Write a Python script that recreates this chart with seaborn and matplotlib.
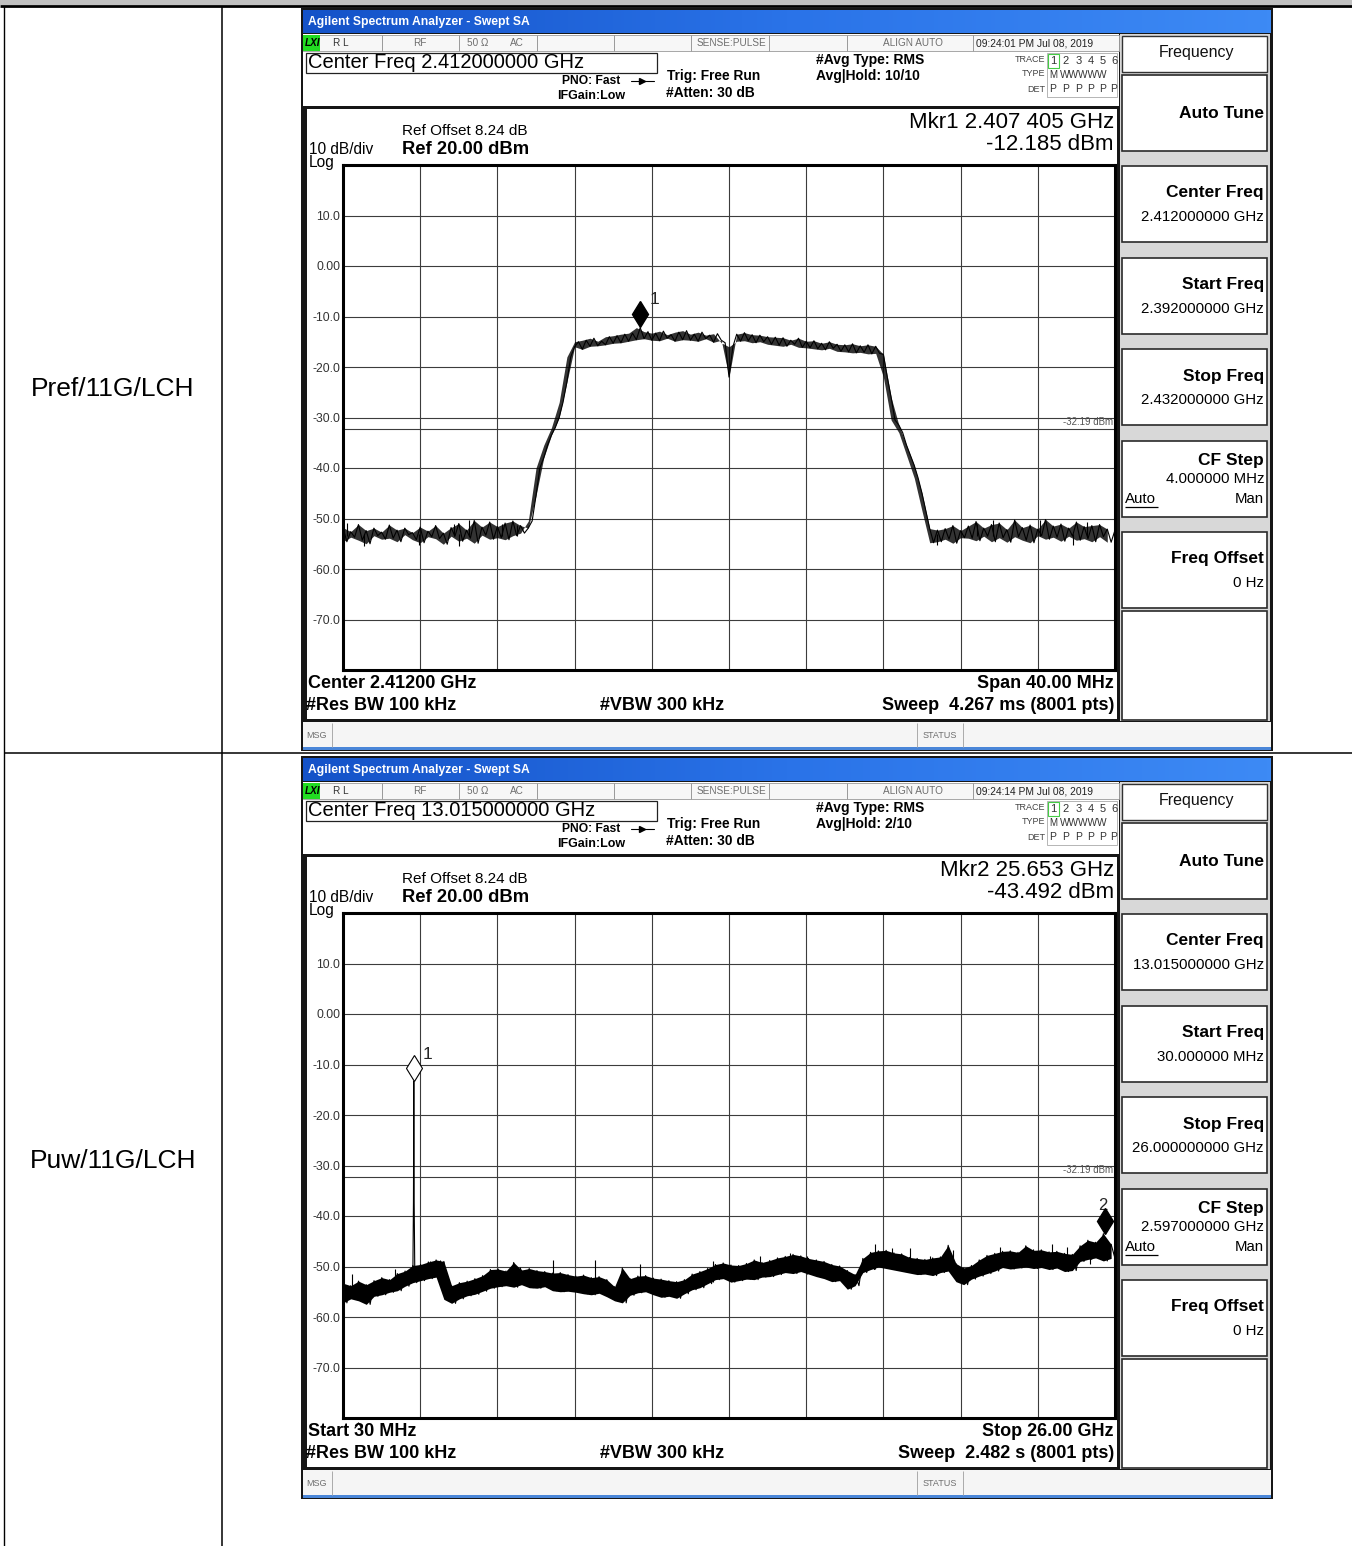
#!/usr/bin/env python3
# spectrum_table.py - two swept SA captures laid out inside a test report table
import numpy as np
import matplotlib
matplotlib.use("Agg")
import matplotlib.pyplot as plt
from matplotlib.patches import Rectangle
from matplotlib.colors import LinearSegmentedColormap
import seaborn as sns

W, H = 1352, 1546

# ---------------- data ----------------
row_labels = ["Pref/11G/LCH", "Puw/11G/LCH"]

# screen 1: center 2.412 GHz, span 40 MHz (x = offset from center, MHz)
span1 = (-20.0, 20.0)
trace1_dbm = [
    -51.8, -54.6, -52.6, -53.7, -51.2, -54.3, -52.4, -55.0, -51.9, -53.4,
    -52.7, -54.1, -51.3, -53.9, -52.3, -54.6, -51.9, -53.2, -52.8, -54.2,
    -51.7, -54.8, -52.5, -53.6, -51.4, -54.0, -52.9, -55.1, -51.8, -53.5,
    -51.0, -54.5, -52.3, -53.9, -50.4, -54.9, -51.7, -53.3, -50.7, -54.1,
    -51.6, -53.8, -50.9, -54.2, -50.5, -53.4, -51.4, -52.9, -51.9,
    -50.5, -45.5, -40.0, -38.0, -35.5, -33.5, -32.0, -30.0, -27.0, -23.0, -18.0, -16.0,
    -15.0, -16.5, -14.7, -15.9, -14.3, -15.8, -14.9, -15.6, -14.0, -15.3,
    -13.8, -15.2, -13.5, -14.9, -13.3, -14.6, -12.2, -14.4, -13.0, -14.7,
    -13.3, -14.8, -12.9, -14.3, -13.6, -14.9, -13.1, -14.6, -12.8, -14.7,
    -13.5, -14.9, -13.1, -14.4, -13.7, -15.1, -13.4, -14.7, -15.2,
    -22.0,
    -16.0, -13.5, -14.9, -13.2, -14.8, -13.6, -15.2, -13.7, -15.0, -14.0,
    -15.5, -14.1, -15.7, -14.2, -15.9, -14.7, -15.5, -14.3, -16.1, -14.9,
    -16.2, -14.8, -16.4, -15.3, -16.6, -15.0, -16.3, -15.5, -16.9, -15.6,
    -17.0, -15.4, -17.2, -15.8, -17.1, -15.6, -17.4, -15.9, -17.3,
    -17.5, -22.0, -26.0, -30.5, -31.5, -33.0, -35.5, -37.5, -39.5, -42.0, -45.0, -48.5, -52.0,
    -54.8, -52.3, -54.6, -52.0, -54.1, -51.4, -54.9, -52.4, -53.8, -51.5,
    -53.9, -50.6, -54.4, -51.9, -53.5, -51.2, -54.6, -50.9, -53.8, -52.2,
    -54.7, -50.3, -53.6, -51.8, -54.3, -51.3, -54.8, -52.1, -53.4, -50.2,
    -54.1, -51.5, -53.7, -51.1, -54.5, -51.9, -53.5, -50.7, -54.3, -51.6,
    -54.0, -51.4, -54.6, -51.2, -53.6, -52.1, -54.7, -52.3,
]
# isolated noise spikes on the floor: position (MHz), tip, foot
spike1_mhz = [-19.79, -18.91, -16.06, -14.25, -13.99, -13.47, -11.76, -10.98,
              10.78, 12.85, 13.68, 16.11, 17.82, 18.55]
spike1_top = [-50.8, -53.0, -53.0, -51.0, -53.0, -50.3, -51.0, -51.2,
              -53.0, -51.0, -50.2, -50.2, -53.0, -50.7]
spike1_foot = [-53.5, -55.4, -55.3, -53.5, -55.4, -53.5, -53.5, -53.5,
               -55.3, -53.5, -53.5, -53.5, -55.3, -53.5]
mkr1_x, mkr1_dbm = -4.595, -12.185

# screen 2: start 30 MHz, stop 26 GHz (x in GHz)
span2 = (0.03, 26.0)
trace2_dbm = [
    -53.3, -57.2, -53.8, -56.4, -52.9, -56.8, -53.6, -57.5, -52.8, -55.9,
    -52.2, -55.6, -52.6, -55.1, -51.4, -54.8, -50.9, -53.9, -49.8, -53.2,
    -49.6, -52.8, -49.1, -52.4, -48.7, -52.1, -49.0, -56.5, -53.8, -57.3,
    -53.2, -56.4, -52.9, -55.8, -52.4, -55.5, -51.8, -54.9, -50.6, -54.3,
    -50.5, -54.0, -50.9, -53.8, -49.2, -54.1, -50.7, -53.6, -50.4, -54.2,
    -50.8, -54.3, -51.0, -54.0, -51.3, -54.8, -51.2, -55.0, -51.6, -54.9,
    -51.9, -55.1, -51.7, -55.4, -52.2, -55.6, -52.0, -55.3, -52.6, -56.0,
    -54.0, -56.8, -50.3, -57.2, -52.4, -55.7, -51.9, -55.2, -51.8, -55.0,
    -52.3, -55.6, -52.5, -56.1, -52.8, -55.9, -53.0, -56.3, -52.6, -55.4,
    -51.5, -54.6, -51.0, -54.2, -50.4, -53.4, -49.6, -52.6, -49.3, -52.4,
    -49.7, -53.1, -49.8, -52.8, -49.4, -52.5, -48.7, -52.6, -49.2, -52.1,
    -48.8, -52.0, -48.3, -51.6, -48.0, -51.2, -47.6, -51.4, -47.9, -51.0,
    -48.4, -51.5, -48.7, -52.0, -49.0, -52.4, -49.6, -53.0, -49.9, -52.8,
    -50.8, -54.5, -51.6, -53.8, -48.4, -51.2, -47.2, -50.6, -46.9, -50.1,
    -46.8, -50.4, -47.3, -50.7, -47.5, -51.0, -48.2, -51.3, -48.4, -51.6,
    -48.6, -51.5, -48.3, -51.8, -48.1, -51.2, -45.8, -50.9, -49.4, -53.0,
    -50.3, -53.6, -49.8, -52.5, -48.7, -51.9, -47.8, -51.4, -47.4, -50.9,
    -47.0, -50.2, -46.9, -50.5, -47.2, -50.3, -45.9, -50.1, -46.8, -50.4,
    -46.7, -50.2, -47.1, -50.6, -47.0, -50.3, -47.4, -51.0, -47.6, -50.8,
    -45.9, -49.0, -44.8, -48.6, -45.2, -48.3, -43.5, -48.9, -45.6, -48.4,
]
spike2_ghz = [0.33, 1.78, 2.96, 3.29, 5.98, 7.09, 8.51, 10.02, 12.48, 14.06, 15.07,
              15.64, 17.93, 18.50, 19.10, 19.78, 20.55, 22.13, 23.24, 23.88, 24.39, 25.16]
spike2_top = [-51.5, -50.5, -49.0, -48.8, -50.0, -48.8, -48.8, -49.5, -49.0, -48.0, -47.3,
              -48.0, -45.5, -46.3, -46.3, -48.0, -46.7, -46.2, -46.5, -45.5, -46.2, -45.3]
spike2_foot = [-55.0, -54.0, -52.0, -52.0, -53.0, -53.0, -53.0, -54.0, -53.0, -52.0, -51.0,
               -51.5, -50.5, -50.0, -50.5, -51.0, -50.5, -50.0, -50.0, -50.0, -50.0, -49.5]
carrier_ghz = [2.380, 2.400, 2.412, 2.424, 2.445]
carrier_dbm = [-51.8, -37.2, -13.3, -37.2, -51.2]
mkr2_x, mkr2_dbm = 25.653, -43.492

ytick_vals = [10, 0, -10, -20, -30, -40, -50, -60, -70]
ytick_text = ["10.0", "0.00", "-10.0", "-20.0", "-30.0", "-40.0", "-50.0", "-60.0", "-70.0"]
display_line = -32.19

screens = [
    dict(dy=0, stamp="09:24:01 PM Jul 08, 2019", cf="Center Freq 2.412000000 GHz",
         hold="Avg|Hold: 10/10", mkr=("Mkr1 2.407 405 GHz", "-12.185 dBm"),
         left=("Center 2.41200 GHz", "#Res BW 100 kHz"),
         right=("Span 40.00 MHz", "Sweep  4.267 ms (8001 pts)"),
         keys=["2.412000000 GHz", "2.392000000 GHz", "2.432000000 GHz", "4.000000 MHz"]),
    dict(dy=748, stamp="09:24:14 PM Jul 08, 2019", cf="Center Freq 13.015000000 GHz",
         hold="Avg|Hold: 2/10", mkr=("Mkr2 25.653 GHz", "-43.492 dBm"),
         left=("Start 30 MHz", "#Res BW 100 kHz"),
         right=("Stop 26.00 GHz", "Sweep  2.482 s (8001 pts)"),
         keys=["13.015000000 GHz", "30.000000 MHz", "26.000000000 GHz", "2.597000000 GHz"]),
]

# ---------------- canvas ----------------
sns.set_theme(style="white")
plt.rcParams['font.family'] = ['Liberation Sans', 'DejaVu Sans']

fig = plt.figure(figsize=(W / 100, H / 100), dpi=100)
base = fig.add_axes([0, 0, 1, 1])
base.axis('off')


def rect(x0, y0, x1, y1, fc='none', ec='none', lw=0.0, z=1):
    base.add_patch(Rectangle((x0, y0), x1 - x0, y1 - y0, facecolor=fc,
                             edgecolor=ec, linewidth=lw, zorder=z))


def txt(x, y, s, size, weight='normal', ha='left', color='black', **kw):
    base.text(x, y, s, fontsize=size, fontweight=weight, ha=ha, va='center',
              color=color, zorder=5, **kw)


def hline(y, x0, x1, color='black', lw=1.0, z=2):
    base.plot([x0, x1], [y, y], color=color, lw=lw, zorder=z, solid_capstyle='butt')


def vline(x, y0, y1, color='black', lw=1.0, z=2):
    base.plot([x, x], [y0, y1], color=color, lw=lw, zorder=z, solid_capstyle='butt')


# report table
rect(0, 0, W, 5, fc='#c0c0c0')
hline(6, 0, W, lw=2.0)
vline(4, 6, H, lw=1.0)
vline(222, 6, H, lw=1.1)
hline(753, 4, W, lw=1.1)
txt(113, 389, row_labels[0], 19, ha='center')
txt(113, 1161, row_labels[1], 19, ha='center')

title_cmap = LinearSegmentedColormap.from_list("bar", ["#1452c8", "#2a73e8", "#3d8af5"])
key_titles = ["Auto Tune", "Center Freq", "Start Freq", "Stop Freq", "CF Step", "Freq Offset"]
key_tops = [75, 166, 258, 349, 441, 532]
type_x = [1053, 1066, 1079, 1091, 1103, 1114]

for s in screens:
    d = s['dy']
    # frame and panels
    rect(301, 8 + d, 1273, 751 + d, fc='#161616')
    base.imshow(np.linspace(0, 1, 256)[None, :], cmap=title_cmap, aspect='auto',
                extent=(303, 1271, 33 + d, 10 + d), zorder=2)
    txt(308, 22 + d, "Agilent Spectrum Analyzer - Swept SA", 8.7, 'bold', color='white')
    rect(303, 34 + d, 1119, 106 + d, fc='white')
    rect(303, 35 + d, 1119, 51 + d, fc='#f7f7f7', ec='#9a9a9a', lw=0.6)
    for cx in [382, 459, 537, 614, 691, 769, 847, 973]:
        vline(cx, 35 + d, 51 + d, color='#9a9a9a', lw=0.7)
    rect(303, 35 + d, 320, 51 + d, fc='#22dd22', z=3)
    txt(305, 43 + d, "LXI", 7.2, 'bold', style='italic')
    gray = '#6e6e6e'
    txt(333, 43 + d, "R L", 7.2, color='#333333')
    txt(420, 43 + d, "RF", 7.2, ha='center', color=gray)
    txt(478, 43 + d, "50 Ω", 7.2, ha='center', color=gray)
    txt(517, 43 + d, "AC", 7.2, ha='center', color=gray)
    txt(731, 43 + d, "SENSE:PULSE", 7.2, ha='center', color=gray)
    txt(913, 43 + d, "ALIGN AUTO", 7.2, ha='center', color=gray)
    txt(976, 43 + d, s['stamp'], 7.4, color='#222222')

    rect(306, 53 + d, 657, 73 + d, fc='white', ec='#222222', lw=0.9, z=3)
    txt(308, 63 + d, s['cf'], 14.5)
    txt(562, 81 + d, "PNO: Fast", 8.7, 'bold')
    base.plot([631, 654], [81 + d, 81 + d], color='black', lw=0.8, zorder=4)
    base.plot([642], [81 + d], marker='>', color='black', ms=4, zorder=4)
    txt(557, 96 + d, "IFGain:Low", 9.0, 'bold')
    txt(667, 76 + d, "Trig: Free Run", 9.9, 'bold')
    txt(666, 93 + d, "#Atten: 30 dB", 9.9, 'bold')
    txt(816, 60 + d, "#Avg Type: RMS", 10, 'bold')
    txt(816, 76 + d, s['hold'], 10, 'bold')

    txt(1045, 59 + d, "TRACE", 6.5, ha='right', color='#444444')
    txt(1045, 74 + d, "TYPE", 6.5, ha='right', color='#444444')
    txt(1045, 90 + d, "DET", 6.5, ha='right', color='#444444')
    rect(1047, 53 + d, 1117, 97 + d, fc='white', ec='#aaaaaa', lw=0.6, z=3)
    rect(1048, 54 + d, 1059, 68 + d, ec='#44cc44', lw=0.8, z=4)
    for k, tx in enumerate(type_x):
        txt(tx, 61 + d, str(k + 1), 8, ha='center', color='#333333')
        txt(tx, 89 + d, "P", 7.5, ha='center', color='#333333')
    txt(type_x[0], 75 + d, "M", 7, ha='center', color='#333333')
    txt(1060, 75 + d, "WWWWW", 7.3, color='#333333')

    # graticule panel
    rect(307, 109 + d, 1117, 719 + d, fc='white')
    txt(402, 131 + d, "Ref Offset 8.24 dB", 11)
    txt(402, 149 + d, "Ref 20.00 dBm", 13.2, 'bold')
    txt(309, 150 + d, "10 dB/div", 11.2)
    txt(309, 163 + d, "Log", 11.2)
    txt(1114, 122 + d, s['mkr'][0], 16, ha='right')
    txt(1114, 144 + d, s['mkr'][1], 16, ha='right')
    txt(308, 684 + d, s['left'][0], 13, 'bold')
    txt(306, 705 + d, s['left'][1], 13, 'bold')
    txt(600, 705 + d, "#VBW 300 kHz", 13, 'bold')
    txt(1114, 684 + d, s['right'][0], 13, 'bold', ha='right')
    txt(1114, 705 + d, s['right'][1], 13, 'bold', ha='right')

    # message bar
    rect(303, 722 + d, 1271, 747 + d, fc='#f5f5f5')
    rect(303, 747 + d, 1271, 750 + d, fc='#4a86d8')
    vline(332, 723 + d, 747 + d, color='#aaaaaa', lw=0.7)
    vline(917, 723 + d, 747 + d, color='#aaaaaa', lw=0.7)
    vline(963, 723 + d, 747 + d, color='#aaaaaa', lw=0.7)
    txt(306, 735 + d, "MSG", 6.5, color=gray)
    txt(940, 735 + d, "STATUS", 6.5, ha='center', color=gray)

    # softkeys
    rect(1120, 34 + d, 1270, 721 + d, fc='#d8d8d8')
    rect(1122, 36 + d, 1267, 72 + d, fc='white', ec='#333333', lw=1.0)
    txt(1196, 53 + d, "Frequency", 11.5, ha='center', color='#111111')
    for top in key_tops:
        rect(1122, top + d, 1267, top + 76 + d, fc='white', ec='#2a2a2a', lw=1.2)
    rect(1122, 611 + d, 1267, 720 + d, fc='white', ec='#2a2a2a', lw=1.2)
    txt(1264, 113 + d, key_titles[0], 12.5, 'bold', ha='right')
    for (ty, vy), title, val in zip([(192, 217), (284, 309), (376, 400)], key_titles[1:4], s['keys'][:3]):
        txt(1264, ty + d, title, 12.5, 'bold', ha='right')
        txt(1264, vy + d, val, 10.8, ha='right')
    txt(1264, 460 + d, key_titles[4], 12.5, 'bold', ha='right')
    txt(1264, 479 + d, s['keys'][3], 10.8, ha='right')
    txt(1125, 499 + d, "Auto", 10.8)
    hline(507 + d, 1125, 1158, lw=0.9)
    txt(1264, 499 + d, "Man", 10.8, ha='right')
    txt(1264, 558 + d, key_titles[5], 12.5, 'bold', ha='right')
    txt(1264, 583 + d, "0 Hz", 10.8, ha='right')

# small caret above the start frequency (drawn as a stroke)
base.plot([355, 358.5, 362], [1428, 1423, 1428], color='black', lw=0.9, zorder=5)

base.set_xlim(0, W)
base.set_ylim(H, 0)


# ---------------- graticules ----------------
def graticule(dy, span):
    ax = fig.add_axes([343 / W, 1 - (670 + dy) / H, 772 / W, 505 / H])
    ax.set_facecolor('white')
    ax.set_xlim(*span)
    ax.set_ylim(-80, 20)
    ax.set_xticks(np.linspace(span[0], span[1], 11))
    ax.set_xticklabels([])
    ax.set_yticks(ytick_vals)
    ax.set_yticklabels(ytick_text)
    ax.tick_params(length=0, labelsize=8.8, labelcolor='#333333', pad=2)
    ax.grid(True, color='#3c3c3c', lw=0.8)
    for sp in ax.spines.values():
        sp.set_visible(True)
        sp.set_color('black')
        sp.set_linewidth(2.2)
    ax.axhline(display_line, color='#3c3c3c', lw=0.8)
    ax.text(0.997, display_line + 0.3, "-32.19 dBm", transform=ax.get_yaxis_transform(),
            ha='right', va='bottom', fontsize=7, color='#555555')
    return ax


def noisy_trace(ax, f, vals, lw, fill_alpha, sp_x, sp_top, sp_foot):
    vals = np.asarray(vals)
    n = len(vals) // 2
    # shade between neighbouring sweep points so the noise reads as a band
    ax.fill_between(f[0:2 * n:2], vals[0:2 * n:2], vals[1:2 * n:2],
                    color='black', alpha=fill_alpha, lw=0, zorder=3)
    sns.lineplot(x=f, y=vals, ax=ax, color='black', lw=lw, estimator=None, sort=False, zorder=4)
    ax.vlines(sp_x, sp_foot, sp_top, color='black', lw=0.8, zorder=4)


ax1 = graticule(0, span1)
f1 = np.linspace(span1[0], span1[1], len(trace1_dbm))
noisy_trace(ax1, f1, trace1_dbm, 0.8, 0.8, spike1_mhz, spike1_top, spike1_foot)
ax1.plot([mkr1_x], [mkr1_dbm + 2.6], marker='d', ms=13, color='black', zorder=6)
ax1.text(mkr1_x + 0.5, mkr1_dbm + 5.5, "1", fontsize=12.5, ha='left', va='center')

ax2 = graticule(748, span2)
f2 = np.linspace(span2[0], span2[1], len(trace2_dbm))
noisy_trace(ax2, f2, trace2_dbm, 0.8, 1.0, spike2_ghz, spike2_top, spike2_foot)
sns.lineplot(x=carrier_ghz, y=carrier_dbm, ax=ax2, color='black', lw=0.8, estimator=None, sort=False)
ax2.plot([carrier_ghz[2]], [carrier_dbm[2] + 2.6], marker='d', ms=13, mfc='white',
         mec='black', mew=0.8, zorder=6)
ax2.text(carrier_ghz[2] + 0.3, carrier_dbm[2] + 5.2, "1", fontsize=12.5, ha='left', va='center')
ax2.plot([mkr2_x], [mkr2_dbm + 2.6], marker='d', ms=13, color='black', zorder=6)
ax2.text(mkr2_x - 0.05, mkr2_dbm + 5.6, "2", fontsize=12, ha='center', va='center')

for ax in (ax1, ax2):
    ax.set_xlabel('')
    ax.set_ylabel('')

fig.savefig("out.png", dpi=100)
